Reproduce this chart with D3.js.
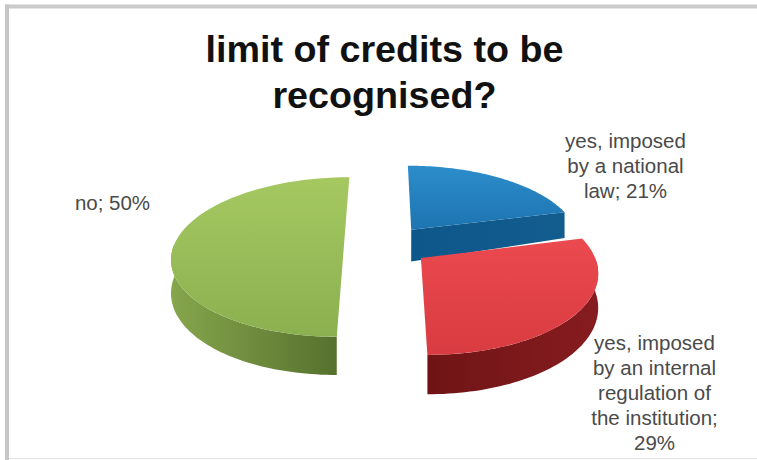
<!DOCTYPE html>
<html>
<head>
<meta charset="utf-8">
<script src="https://cdn.jsdelivr.net/npm/d3@7"></script>
<style>
  html, body { margin: 0; padding: 0; background: #fff; }
  svg { display: block; }
</style>
</head>
<body>
<script>
// Survey answers
const categories = ["yes, imposed by a national law", "yes, imposed by an internal regulation of the institution", "no"];
const shares = [21, 29, 50];
const titleLines = ["limit of credits to be", "recognised?"];
const labelLines = [
  ["yes, imposed", "by a national", "law; 21%"],
  ["yes, imposed", "by an internal", "regulation of", "the institution;", "29%"],
  ["no; 50%"]
];

const width = 757, height = 460;
const svg = d3.select("body").append("svg").attr("width", width).attr("height", height);
const defs = svg.append("defs");

// Frame of the chart area
svg.append("rect").attr("x", 0).attr("y", 0).attr("width", width).attr("height", height).attr("fill", "#fff");
svg.append("rect").attr("x", 5).attr("y", 4.5).attr("width", width).attr("height", 4).attr("fill", "#cbcbcb");
svg.append("rect").attr("x", 5).attr("y", 4.5).attr("width", 4).attr("height", height).attr("fill", "#c6c6c6");
svg.append("rect").attr("x", 9).attr("y", 458).attr("width", width).attr("height", 1).attr("fill", "#e2e2e2");

// Perspective projection of the pie's ground plane onto the screen
const R = 170, vanishX = 385, horizonY = 245, tilt = 78, persp = 0.15, thickness = 32.5;
const project = (x, z, drop = 0) => {
  const s = 1 / (1 + persp * z);
  return [vanishX + x * s, horizonY - tilt * z * s + drop * s];
};

// How far each slice is pulled out of the pie, and how it is shaded
const explode = [{ x: 27, z: 0.2 }, { x: 35, z: -0.163 }, { x: -41, z: 0 }];
const paints = [
  { top: ["#2c8dcb", "#1d74b0"], wall: ["#0e578a", "#135c8e"] },
  { top: ["#eb4a4f", "#d83b41"], wall: ["#6f1416", "#861c1f"] },
  { top: ["#a5c861", "#8bb04f"], wall: ["#86a64c", "#56712e"] }
];
paints.forEach((p, i) => {
  const g1 = defs.append("linearGradient").attr("id", `top${i}`).attr("x1", 0).attr("y1", 0).attr("x2", 0).attr("y2", 1);
  g1.append("stop").attr("offset", 0).attr("stop-color", p.top[0]);
  g1.append("stop").attr("offset", 1).attr("stop-color", p.top[1]);
  const g2 = defs.append("linearGradient").attr("id", `wall${i}`).attr("x1", 0).attr("y1", 0).attr("x2", 1).attr("y2", 0);
  g2.append("stop").attr("offset", 0).attr("stop-color", p.wall[0]);
  g2.append("stop").attr("offset", 1).attr("stop-color", p.wall[1]);
});

const slices = d3.pie().sort(null).value(d => d)(shares);
const line = d3.line();

// Points along the rim of a slice between two angles, 0 at the far side, clockwise
const rim = (i, a0, a1, drop = 0) => d3.range(0, 61).map(k => {
  const a = a0 + (a1 - a0) * k / 60;
  return project(explode[i].x + R * Math.sin(a), explode[i].z + Math.cos(a), drop);
});
const apex = (i, drop = 0) => project(explode[i].x, explode[i].z, drop);

const pieG = svg.append("g");
slices.forEach((sl, i) => {
  const g = pieG.append("g");
  const a0 = sl.startAngle, a1 = sl.endAngle;

  // Outer wall: the part of the rim that faces the viewer
  const wa0 = Math.max(a0, Math.PI / 2), wa1 = Math.min(a1, Math.PI * 3 / 2);
  if (wa1 > wa0) {
    const upper = rim(i, wa0, wa1), lower = rim(i, wa0, wa1, thickness).reverse();
    g.append("path").attr("d", line(upper.concat(lower)) + "Z").attr("fill", `url(#wall${i})`);
  }
  // Cut face of the slice whose trailing edge looks toward the viewer
  if (i === 0) {
    const corner = project(explode[i].x + R * Math.sin(a1), explode[i].z + Math.cos(a1));
    const cornerLow = project(explode[i].x + R * Math.sin(a1), explode[i].z + Math.cos(a1), thickness * 0.85);
    g.append("path").attr("d", line([apex(i), corner, cornerLow, apex(i, thickness)]) + "Z").attr("fill", `url(#wall${i})`);
  }
  // Top surface
  const outline = [apex(i)].concat(rim(i, a0, a1));
  g.append("path").attr("d", line(outline) + "Z").attr("fill", `url(#top${i})`);
});

// Title
const title = svg.append("g").attr("font-family", "'Liberation Sans', Arial, sans-serif")
  .attr("font-weight", "bold").attr("font-size", 37.7).attr("fill", "#111").attr("text-anchor", "middle");
title.selectAll("text").data(titleLines).join("text")
  .attr("x", 384.5).attr("y", (d, i) => 62 + i * 46).text(d => d);

// Slice labels
const labelAt = [{ x: 625.5, y: 148 }, { x: 654.5, y: 350 }, { x: 112.5, y: 210 }];
const labels = svg.append("g").attr("font-family", "'Liberation Sans', Arial, sans-serif")
  .attr("font-size", 20.5).attr("fill", "#4a4a4a").attr("text-anchor", "middle");
labelLines.forEach((lines, i) => {
  labels.append("g").selectAll("text").data(lines).join("text")
    .attr("x", labelAt[i].x).attr("y", (d, k) => labelAt[i].y + k * 25).text(d => d);
});
</script>
</body>
</html>
